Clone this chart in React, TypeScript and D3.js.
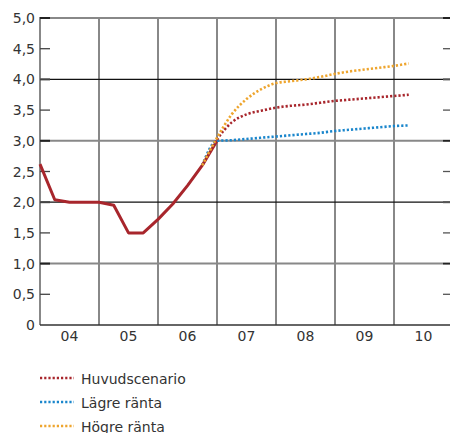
import React from "react";
import * as d3 from "d3";

const years = ["04", "05", "06", "07", "08", "09", "10"];
const yTicks = [0, 0.5, 1, 1.5, 2, 2.5, 3, 3.5, 4, 4.5, 5];
const histQuarters = ["2004Q1","2004Q2","2004Q3","2004Q4","2005Q1","2005Q2","2005Q3","2005Q4","2006Q1","2006Q2","2006Q3","2006Q4","2007Q1"];
const histValues = [2.62, 2.04, 2.0, 2.0, 2.0, 1.95, 1.5, 1.5, 1.72, 1.97, 2.27, 2.6, 3.0];
const fcQuarters = ["2006Q4","2007Q1","2007Q2","2007Q3","2007Q4","2008Q1","2008Q2","2008Q3","2008Q4","2009Q1","2009Q2","2009Q3","2009Q4","2010Q1","2010Q2"];
const huvud = [2.6, 3.02, 3.3, 3.43, 3.49, 3.54, 3.57, 3.59, 3.62, 3.65, 3.67, 3.69, 3.71, 3.73, 3.75];
const lagre = [2.6, 3.0, 3.01, 3.03, 3.05, 3.07, 3.09, 3.11, 3.13, 3.16, 3.18, 3.2, 3.22, 3.24, 3.25];
const hogre = [2.6, 3.05, 3.43, 3.68, 3.84, 3.94, 3.97, 4.0, 4.04, 4.09, 4.13, 4.16, 4.19, 4.22, 4.26];
const legendLabels = ["Huvudscenario", "Lägre ränta", "Högre ränta"];
const colors = { hist: "#a8262c", huvud: "#a8262c", lagre: "#1a86cc", hogre: "#eea52e" };

const qToYear = (q: string) => +q.slice(0, 4) + (+q.slice(5) - 1) / 4;

export default function App() {
  const W = 450, H = 433;
  const left = 40, right = 453, top = 18, bottom = 325;
  const x = d3.scaleLinear().domain([2004, 2011]).range([left, right]);
  const y = d3.scaleLinear().domain([0, 5]).range([bottom, top]);
  const font = "DejaVu Sans, sans-serif";
  const txt = "#333";

  const histLine = d3.line<number>().x((_, i) => x(qToYear(histQuarters[i]))).y((d) => y(d));
  const fcLine = d3.line<number>().x((_, i) => x(qToYear(fcQuarters[i]))).y((d) => y(d)).curve(d3.curveMonotoneX);

  const series = [
    { vals: lagre, color: colors.lagre },
    { vals: huvud, color: colors.huvud },
    { vals: hogre, color: colors.hogre },
  ];
  const legendColors = [colors.huvud, colors.lagre, colors.hogre];

  return (
    <svg width={W} height={H} style={{ position: "absolute", left: 0, top: 0 }}>
      {/* vertical year boundaries */}
      {d3.range(2005, 2011).map((yr) => (
        <line key={"v" + yr} x1={x(yr)} x2={x(yr)} y1={top} y2={bottom} stroke="#888" strokeWidth={2} />
      ))}
      {/* horizontal grid */}
      {[1, 2, 3, 4, 5].map((v) =>
        v % 2 === 1 ? (
          <line key={"h" + v} x1={left} x2={443} y1={y(v)} y2={y(v)} stroke="#888" strokeWidth={2} />
        ) : (
          <line key={"h" + v} x1={left} x2={W} y1={y(v)} y2={y(v)} stroke="#111" strokeWidth={1.2} />
        )
      )}
      {/* left axis */}
      <line x1={left} x2={left} y1={top - 1} y2={bottom} stroke="#888" strokeWidth={2} />
      {/* ticks */}
      {yTicks.filter((v) => v > 0).map((v) => (
        <g key={"t" + v}>
          <line x1={left} x2={left + 10} y1={y(v)} y2={y(v)} stroke={v % 2 === 1 ? "#222" : "#444"} strokeWidth={v % 1 === 0 ? 2 : 1.3} />
          <line x1={443} x2={W} y1={y(v)} y2={y(v)} stroke={v % 2 === 1 ? "#222" : "#555"} strokeWidth={v % 1 === 0 ? 2 : 1.3} />
        </g>
      ))}
      {/* bottom axis */}
      <line x1={left} x2={W} y1={bottom} y2={bottom} stroke="#333" strokeWidth={1.5} />
      {/* y labels */}
      {yTicks.map((v) => (
        <text key={"yl" + v} x={35} y={y(v) + 5} textAnchor="end" fontFamily={font} fontSize={14} fill={txt}>
          {v === 0 ? "0" : d3.format(".1f")(v).replace(".", ",")}
        </text>
      ))}
      {/* x labels */}
      {years.map((lab, i) => (
        <text key={"xl" + lab} x={(x(2004 + i) + x(2005 + i)) / 2} y={341} textAnchor="middle" fontFamily={font} fontSize={14} fill={txt}>
          {lab}
        </text>
      ))}
      {/* historical */}
      <path d={histLine(histValues) || ""} fill="none" stroke={colors.hist} strokeWidth={3} strokeLinejoin="round" />
      {/* forecasts */}
      {series.map((s, i) => (
        <path key={"f" + i} d={fcLine(s.vals) || ""} fill="none" stroke={s.color} strokeWidth={2.6} strokeDasharray="2.2,2" />
      ))}
      {/* legend */}
      {legendLabels.map((lab, i) => (
        <g key={"lg" + i}>
          <line x1={40} x2={74} y1={378 + i * 24} y2={378 + i * 24} stroke={legendColors[i]} strokeWidth={2.6} strokeDasharray="2.2,2" />
          <text x={81} y={384 + i * 24} fontFamily={font} fontSize={14} fill={txt}>
            {lab}
          </text>
        </g>
      ))}
    </svg>
  );
}
